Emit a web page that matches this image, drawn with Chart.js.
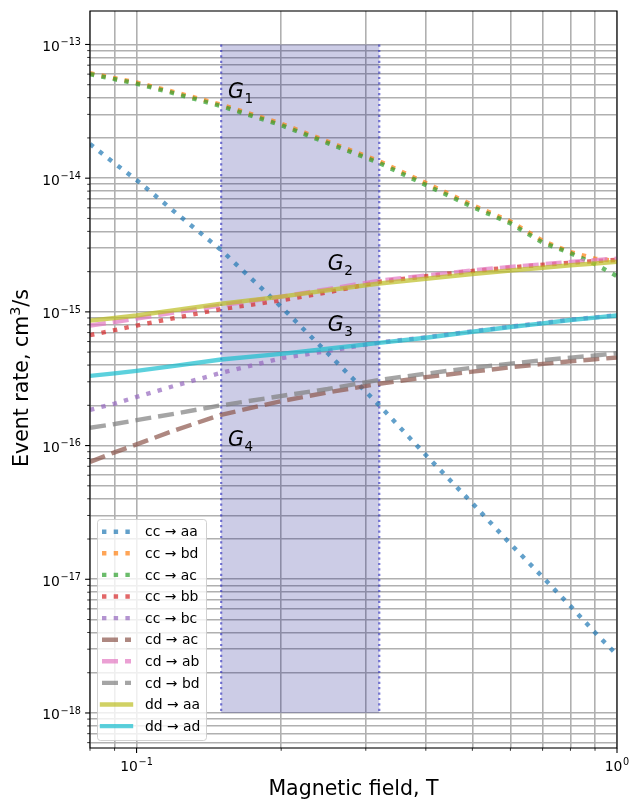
<!DOCTYPE html>
<html>
<head>
<meta charset="utf-8">
<title>Event rate vs magnetic field</title>
<script src="https://cdn.jsdelivr.net/npm/chart.js@4.4.1/dist/chart.umd.min.js"></script>
<style>
  html, body { margin: 0; padding: 0; background: #fff; }
  canvas { display: block; }
</style>
</head>
<body>
<canvas id="rates" width="629" height="801"></canvas>
<script>
// magnetic field samples, T
const FIELD = [0.08, 0.09, 0.1, 0.12, 0.15, 0.2, 0.25, 0.32, 0.4, 0.5, 0.6, 0.7, 0.8, 0.9, 1.0];

// event rates, cm^3/s
const ccAA = [1.8e-14, 1.29e-14, 9.7e-15, 5.6e-15, 2.9e-15, 1.09e-15, 4.9e-16, 2.0e-16, 8.5e-17, 3.7e-17, 1.84e-17, 1.04e-17, 6.3e-18, 4.0e-18, 2.72e-18];
const ccBD = [6.1e-14, 5.6e-14, 5.2e-14, 4.4e-14, 3.55e-14, 2.56e-14, 1.88e-14, 1.34e-14, 9.2e-15, 6.3e-15, 4.75e-15, 3.4e-15, 2.8e-15, 2.5e-15, 2.4e-15];
const ccAC = [6.0e-14, 5.5e-14, 5.1e-14, 4.3e-14, 3.46e-14, 2.49e-14, 1.83e-14, 1.3e-14, 8.9e-15, 6.1e-15, 4.6e-15, 3.3e-15, 2.75e-15, 2.28e-15, 1.85e-15];
const ccBB = [6.7e-16, 7.3e-16, 7.9e-16, 9.0e-16, 1.05e-15, 1.22e-15, 1.4e-15, 1.68e-15, 1.85e-15, 2.02e-15, 2.15e-15, 2.25e-15, 2.33e-15, 2.4e-15, 2.45e-15];
const ccBC = [1.85e-16, 2.06e-16, 2.31e-16, 2.8e-16, 3.5e-16, 4.5e-16, 5.1e-16, 5.9e-16, 6.45e-16, 7.15e-16, 7.75e-16, 8.25e-16, 8.75e-16, 9.1e-16, 9.45e-16];
const cdAC = [7.55e-17, 8.9e-17, 1.02e-16, 1.3e-16, 1.7e-16, 2.15e-16, 2.5e-16, 2.9e-16, 3.25e-16, 3.57e-16, 3.85e-16, 4.08e-16, 4.27e-16, 4.42e-16, 4.56e-16];
const cdAB = [7.9e-16, 8.4e-16, 8.9e-16, 9.9e-16, 1.12e-15, 1.3e-15, 1.48e-15, 1.71e-15, 1.87e-15, 2.04e-15, 2.17e-15, 2.27e-15, 2.36e-15, 2.44e-15, 2.5e-15];
const cdBD = [1.36e-16, 1.45e-16, 1.55e-16, 1.73e-16, 2.0e-16, 2.35e-16, 2.65e-16, 3.1e-16, 3.45e-16, 3.82e-16, 4.1e-16, 4.35e-16, 4.55e-16, 4.72e-16, 4.9e-16];
const ddAA = [8.6e-16, 9.0e-16, 9.4e-16, 1.03e-15, 1.15e-15, 1.3e-15, 1.45e-15, 1.63e-15, 1.77e-15, 1.92e-15, 2.04e-15, 2.14e-15, 2.23e-15, 2.3e-15, 2.37e-15];
const ddAD = [3.32e-16, 3.47e-16, 3.62e-16, 3.95e-16, 4.4e-16, 4.85e-16, 5.3e-16, 5.86e-16, 6.4e-16, 7.1e-16, 7.7e-16, 8.2e-16, 8.7e-16, 9.05e-16, 9.4e-16];

const SERIES_VALUES = [ccAA, ccBD, ccAC, ccBB, ccBC, cdAC, cdAB, cdBD, ddAA, ddAD];
const SERIES_LABELS = ['cc → aa', 'cc → bd', 'cc → ac', 'cc → bb', 'cc → bc',
                       'cd → ac', 'cd → ab', 'cd → bd', 'dd → aa', 'dd → ad'];
const SERIES_COLORS = ['#1f77b4', '#ff7f0e', '#2ca02c', '#d62728', '#9467bd',
                       '#8c564b', '#e377c2', '#7f7f7f', '#bcbd22', '#17becf'];
const SERIES_STYLE  = ['dot', 'dot', 'dot', 'dot', 'dot', 'dash', 'dash', 'dash', 'solid', 'solid'];

// shaded field window
const BAND_FIELD = [0.15, 0.32];
const BAND_RATE  = [1e-18, 1e-13];

// G annotations
const NOTE_SUB   = ['1', '2', '3', '4'];
const NOTE_FIELD = [0.155, 0.25, 0.25, 0.155];
const NOTE_RATE  = [4e-14, 2.05e-15, 7.2e-16, 1e-16];

// axes
const X_MIN = 0.08, X_MAX = 1.0;
const Y_MIN = 5.47e-19, Y_MAX = 1.78e-13;
const X_DECADES = [-1, 0];
const Y_DECADES = [-18, -17, -16, -15, -14, -13];
const MANTISSAS = [1, 2, 3, 4, 5, 6, 7, 8, 9];

const FONT = '"DejaVu Sans", sans-serif';
const GRID = '#b0b0b0';
const LW = 4.4;
const DASH = { dot: [4.4, 7.3], dash: [16, 7], solid: [] };

function logTicks(lo, hi) {
  const out = [];
  for (let e = Math.floor(Math.log10(lo)); e <= Math.ceil(Math.log10(hi)); e++) {
    MANTISSAS.forEach(m => {
      const v = m * Math.pow(10, e);
      if (v >= lo * 0.9999 && v <= hi * 1.0001) out.push(v);
    });
  }
  return out;
}
const X_TICKS = logTicks(X_MIN, X_MAX);
const Y_TICKS = logTicks(Y_MIN, Y_MAX);

function isDecade(v) {
  const l = Math.log10(v);
  return Math.abs(l - Math.round(l)) < 1e-9;
}

function pow10(ctx, e, x, base, align) {
  const exp = String(e).replace('-', '\u2212');
  ctx.font = '13.9px ' + FONT;
  const wb = ctx.measureText('10').width;
  ctx.font = '9.7px ' + FONT;
  const we = ctx.measureText(exp).width;
  const total = wb + we + 0.6;
  const left = align === 'right' ? x - total : x - total / 2;
  ctx.textAlign = 'left';
  ctx.textBaseline = 'alphabetic';
  ctx.font = '13.9px ' + FONT;
  ctx.fillText('10', left, base);
  ctx.font = '9.7px ' + FONT;
  ctx.fillText(exp, left + wb + 0.6, base - 5.7);
}

const frame = {
  id: 'frame',
  beforeDatasetsDraw(chart) {
    const { ctx, scales: { x, y } } = chart;
    const x0 = x.getPixelForValue(BAND_FIELD[0]);
    const x1 = x.getPixelForValue(BAND_FIELD[1]);
    const yt = y.getPixelForValue(BAND_RATE[1]);
    const yb = y.getPixelForValue(BAND_RATE[0]);
    ctx.save();
    ctx.fillStyle = 'rgba(0,0,128,0.2)';
    ctx.fillRect(x0, yt, x1 - x0, yb - yt);
    ctx.strokeStyle = 'rgba(50,50,190,0.65)';
    ctx.lineWidth = 2.2;
    ctx.setLineDash([2.2, 3.2]);
    [x0, x1].forEach(px => {
      ctx.beginPath();
      ctx.moveTo(px, yt);
      ctx.lineTo(px, yb);
      ctx.stroke();
    });
    ctx.restore();
  },
  afterDraw(chart) {
    const { ctx, chartArea: a, scales: { x, y } } = chart;
    ctx.save();
    ctx.fillStyle = '#000';
    ctx.strokeStyle = '#000';

    // annotations
    NOTE_SUB.forEach((s, i) => {
      const px = x.getPixelForValue(NOTE_FIELD[i]);
      const py = y.getPixelForValue(NOTE_RATE[i]);
      ctx.textAlign = 'left';
      ctx.textBaseline = 'alphabetic';
      ctx.font = 'italic 20.5px ' + FONT;
      ctx.fillText('G', px, py);
      const w = ctx.measureText('G').width;
      ctx.font = '13.5px ' + FONT;
      ctx.fillText(s, px + w + 0.5, py + 5);
    });

    // legend
    const lx = 97.5, ly = 519.5, lw = 109, lh = 221;
    ctx.beginPath();
    ctx.roundRect(lx, ly, lw, lh, 3);
    ctx.fillStyle = 'rgba(255,255,255,0.8)';
    ctx.fill();
    ctx.strokeStyle = 'rgba(204,204,204,0.9)';
    ctx.lineWidth = 1;
    ctx.stroke();
    SERIES_LABELS.forEach((label, i) => {
      const yy = 531.7 + i * 21.6;
      ctx.save();
      ctx.setLineDash(DASH[SERIES_STYLE[i]]);
      ctx.lineCap = SERIES_STYLE[i] === 'solid' ? 'square' : 'butt';
      ctx.strokeStyle = SERIES_COLORS[i] + 'b3';
      ctx.lineWidth = LW;
      ctx.beginPath();
      ctx.moveTo(102, yy);
      ctx.lineTo(131, yy);
      ctx.stroke();
      ctx.restore();
      ctx.fillStyle = '#000';
      ctx.font = '13.9px ' + FONT;
      ctx.textAlign = 'left';
      ctx.textBaseline = 'alphabetic';
      ctx.fillText(label, 145, yy + 4.6);
    });

    // spines
    ctx.strokeStyle = '#000';
    ctx.lineWidth = 1.1;
    ctx.setLineDash([]);
    ctx.strokeRect(a.left, a.top, a.right - a.left, a.bottom - a.top);

    // tick marks
    X_TICKS.forEach(v => {
      const px = x.getPixelForValue(v);
      const major = isDecade(v);
      ctx.lineWidth = major ? 1.1 : 0.8;
      ctx.beginPath();
      ctx.moveTo(px, a.bottom);
      ctx.lineTo(px, a.bottom + (major ? 4.9 : 2.8));
      ctx.stroke();
    });
    Y_TICKS.forEach(v => {
      const py = y.getPixelForValue(v);
      const major = isDecade(v);
      ctx.lineWidth = major ? 1.1 : 0.8;
      ctx.beginPath();
      ctx.moveTo(a.left, py);
      ctx.lineTo(a.left - (major ? 4.9 : 2.8), py);
      ctx.stroke();
    });

    // tick labels
    ctx.fillStyle = '#000';
    Y_DECADES.forEach(e => pow10(ctx, e, 81, y.getPixelForValue(Math.pow(10, e)) + 6.4, 'right'));
    X_DECADES.forEach(e => pow10(ctx, e, x.getPixelForValue(Math.pow(10, e)), 770.7, 'center'));

    // axis titles
    ctx.font = '20.5px ' + FONT;
    ctx.textAlign = 'center';
    ctx.textBaseline = 'alphabetic';
    ctx.fillText('Magnetic field, T', (a.left + a.right) / 2, 795);

    ctx.translate(28, 378);
    ctx.rotate(-Math.PI / 2);
    const head = 'Event rate, cm', sup = '3', tail = '/s';
    ctx.font = '20.5px ' + FONT;
    const wh = ctx.measureText(head).width, wt = ctx.measureText(tail).width;
    ctx.font = '14.3px ' + FONT;
    const ws = ctx.measureText(sup).width;
    let cx = -(wh + ws + wt) / 2;
    ctx.textAlign = 'left';
    ctx.font = '20.5px ' + FONT;
    ctx.fillText(head, cx, 0);
    cx += wh;
    ctx.font = '14.3px ' + FONT;
    ctx.fillText(sup, cx, -8);
    cx += ws;
    ctx.font = '20.5px ' + FONT;
    ctx.fillText(tail, cx, 0);
    ctx.restore();
  }
};

const datasets = SERIES_LABELS.map((label, i) => ({
  label,
  data: FIELD.map((f, j) => ({ x: f, y: SERIES_VALUES[i][j] })),
  borderColor: SERIES_COLORS[i] + 'b3',
  borderWidth: LW,
  borderDash: DASH[SERIES_STYLE[i]],
  borderCapStyle: SERIES_STYLE[i] === 'solid' ? 'square' : 'butt',
  pointRadius: 0,
  fill: false,
  tension: 0,
  clip: 0,
  order: SERIES_LABELS.length - i
}));

new Chart(document.getElementById('rates'), {
  type: 'line',
  data: { datasets },
  options: {
    responsive: false,
    animation: false,
    events: [],
    layout: { padding: { top: 11, right: 12, left: 0, bottom: 0 } },
    plugins: { legend: { display: false }, tooltip: { enabled: false } },
    scales: {
      x: {
        type: 'logarithmic',
        min: X_MIN,
        max: X_MAX,
        bounds: 'data',
        afterBuildTicks: s => { s.ticks = X_TICKS.map(v => ({ value: v })); },
        afterFit: s => { s.height = 53; },
        ticks: { display: false },
        grid: { color: GRID, lineWidth: 1.6, drawTicks: false },
        border: { display: false }
      },
      y: {
        type: 'logarithmic',
        min: Y_MIN,
        max: Y_MAX,
        bounds: 'data',
        afterBuildTicks: s => { s.ticks = Y_TICKS.map(v => ({ value: v })); },
        afterFit: s => { s.width = 90; },
        ticks: { display: false },
        grid: { color: GRID, lineWidth: 1.6, drawTicks: false },
        border: { display: false }
      }
    }
  },
  plugins: [frame]
});
</script>
</body>
</html>
